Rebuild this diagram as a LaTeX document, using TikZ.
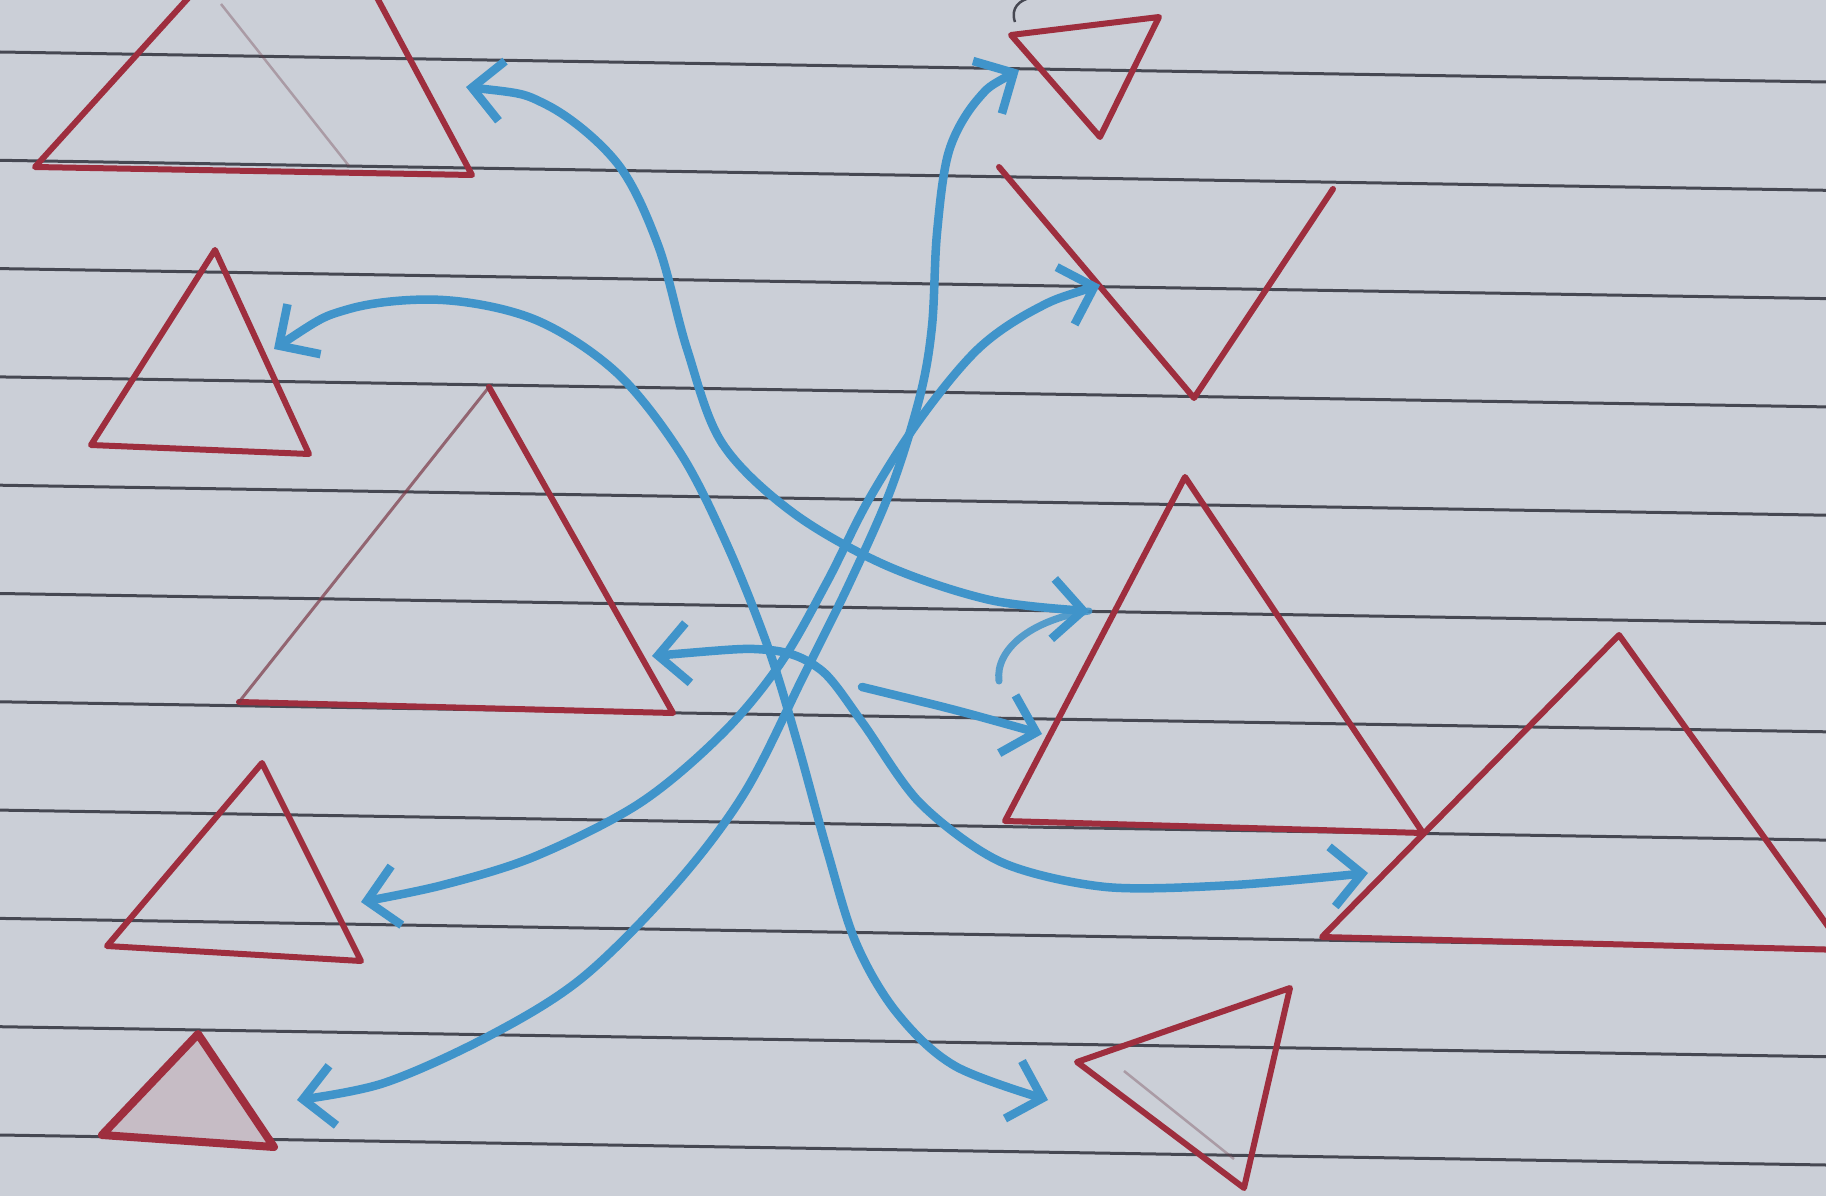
\documentclass[tikz,border=0pt]{standalone}
\usetikzlibrary{arrows.meta}
\definecolor{paper}{RGB}{203,207,215}
\definecolor{rulec}{RGB}{70,72,82}
\definecolor{redpen}{RGB}{158,46,62}
\definecolor{bluepen}{RGB}{64,148,202}
\begin{document}
\begin{tikzpicture}[x=1pt,y=-1pt,
  tri/.style={draw=redpen, line width=6pt, line join=round, line cap=round},
  faint/.style={draw=redpen!45!rulec, line width=2.5pt, opacity=0.35},
  rulel/.style={draw=rulec, line width=3pt},
  barb/.tip={Straight Barb[length=30pt,width=60pt]},
  barr/.style={draw=bluepen, line width=8.5pt, line cap=round, line join=round, barb-barb},
  sarr/.style={draw=bluepen, line width=8.5pt, line cap=round, line join=round, -barb}]
\useasboundingbox (0,0) rectangle (1826,1196);
\clip (0,0) rectangle (1826,1196);
\fill[paper] (0,0) rectangle (1826,1196);
% ruled lines of the paper
\foreach \k in {0,...,10} {
  \draw[rulel] (0,{52+108.3*\k}) -- (1826,{82+108.3*\k});
}
% scribble at the top edge
\draw[rulec, line width=2.5pt] (1015,22) .. controls (1010,8) and (1020,0) .. (1030,-2);
% ---------- triangles ----------
\coordinate (t1a) at (307,-133); \coordinate (t1b) at (472,175); \coordinate (t1c) at (35,167);
\draw[tri] (t1a) -- (t1b) -- (t1c) -- cycle;
\coordinate (t1f1) at (221,4); \coordinate (t1f2) at (349,166);
\draw[faint] (t1f1) -- (t1f2);

\coordinate (t2a) at (1011,35); \coordinate (t2b) at (1159,17); \coordinate (t2c) at (1100,137);
\draw[tri] (t2a) -- (t2b) -- (t2c) -- cycle;

\coordinate (t3a) at (999,167); \coordinate (t3b) at (1194,398); \coordinate (t3c) at (1333,189);
\draw[tri] (t3a) -- (t3b) -- (t3c);

\coordinate (t4a) at (215,250); \coordinate (t4b) at (309,454); \coordinate (t4c) at (91,445);
\draw[tri] (t4a) -- (t4b) -- (t4c) -- cycle;

\coordinate (t5a) at (489,387); \coordinate (t5b) at (673,713); \coordinate (t5c) at (239,702);
\draw[tri] (t5a) -- (t5b) -- (t5c);
\draw[tri, draw=redpen!60!rulec, line width=3pt, opacity=0.7] (t5c) -- (t5a);

\coordinate (t6a) at (1185,477); \coordinate (t6b) at (1423,833); \coordinate (t6c) at (1005,821);
\draw[tri] (t6a) -- (t6b) -- (t6c) -- cycle;

\coordinate (t7a) at (1619,635); \coordinate (t7b) at (1845,950); \coordinate (t7c) at (1322,937);
\draw[tri] (t7a) -- (t7b) -- (t7c) -- cycle;

\coordinate (t8a) at (262,763); \coordinate (t8b) at (361,961); \coordinate (t8c) at (107,946);
\draw[tri] (t8a) -- (t8b) -- (t8c) -- cycle;

\coordinate (t9a) at (198,1034); \coordinate (t9b) at (274,1147); \coordinate (t9c) at (102,1135);
\draw[tri, line width=8pt, fill=redpen!12!paper] (t9a) -- (t9b) -- (t9c) -- cycle;

\coordinate (t10a) at (1077,1062); \coordinate (t10b) at (1290,988); \coordinate (t10c) at (1244,1188);
\draw[tri] (t10a) -- (t10b) -- (t10c) -- cycle;
\coordinate (t10f1) at (1124,1071); \coordinate (t10f2) at (1234,1159);
\draw[faint] (t10f1) -- (t10f2);
% ---------- blue arrows ----------
\coordinate (ctr) at (769,650);
\coordinate (e1) at (466,87);   \coordinate (f1) at (1089,611);
\coordinate (e2) at (274,349);  \coordinate (f2) at (1048,1100);
\coordinate (e3) at (1019,70);  \coordinate (f3) at (297,1100);
\coordinate (e4) at (1100,285); \coordinate (f4) at (361,902);
\coordinate (e5) at (652,656);  \coordinate (f5) at (1368,873);
\coordinate (e6) at (862,687);  \coordinate (f6) at (1042,734);
\coordinate (e7) at (999,681);

\draw[barr] plot[smooth, tension=0.55] coordinates {(e1) (547,105) (617,163) (658,245) (687,349) (722,443) (792,512) (885,565) (990,600) (f1)};
\draw[barr] plot[smooth, tension=0.55] coordinates {(e2) (349,309) (443,300) (536,320) (617,373) (681,454) (728,547) (ctr) (798,745) (827,850) (856,943) (897,1013) (955,1066) (f2)};
\draw[barr] plot[smooth, tension=0.55] coordinates {(e3) (978,99) (949,151) (937,233) (932,326) (920,396) (891,489) (850,582) (804,675) (745,792) (675,885) (582,978) (489,1036) (384,1083) (f3)};
\draw[barr] plot[smooth, tension=0.55] coordinates {(e4) (1036,309) (978,349) (920,419) (868,501) (827,582) (780,664) (722,734) (640,803) (536,856) (443,885) (f4)};
\draw[barr] plot[smooth, tension=0.5] coordinates {(e5) (ctr) (821,670) (862,722) (920,803) (1001,862) (1106,887) (1234,885) (f5)};
\draw[sarr] plot[smooth, tension=0.5] coordinates {(e6) (955,710) (f6)};
\draw[draw=bluepen, line width=7pt, line cap=round, opacity=0.85] (e7) .. controls (995,650) and (1030,620) .. (f1);
\end{tikzpicture}
\end{document}
